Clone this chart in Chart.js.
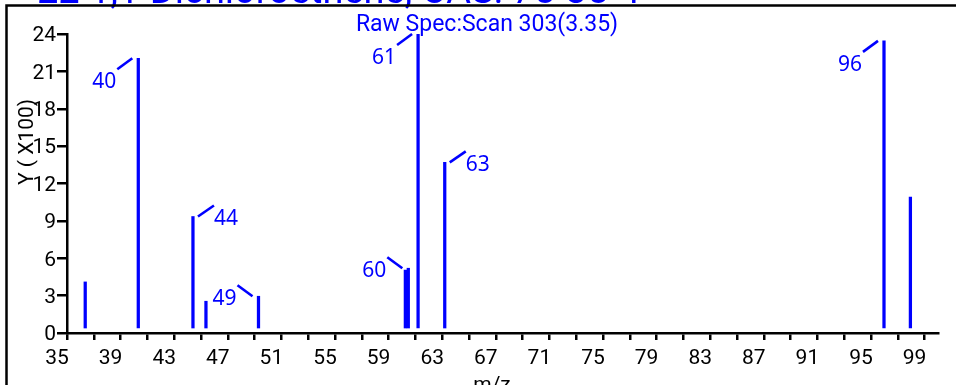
<!DOCTYPE html>
<html>
<head>
<meta charset="utf-8">
<script src="https://cdn.jsdelivr.net/npm/chart.js@4.4.1/dist/chart.umd.min.js"></script>
<style>
html, body { margin: 0; padding: 0; background: #fff; }
#wrap { width: 956px; height: 385px; }
</style>
</head>
<body>
<div id="wrap"><canvas id="spec"></canvas></div>
<script>
// peaks: m/z position and intensity in Y (x100)
const mzValues = [36.36, 40.32, 44.40, 45.37, 49.29, 60.25, 60.47, 61.20, 63.19, 95.97, 97.94];
const intensities = [4.1, 22.05, 9.35, 2.55, 2.95, 5.05, 5.2, 24.0, 13.7, 23.45, 10.9];
const peakLabels = ['', '40', '44', '', '49', '', '60', '61', '63', '96', ''];

// axis ticks
const xTickValues = [35, 37, 39, 41, 43, 45, 47, 49, 51, 53, 55, 57, 59, 61, 63, 65, 67,
                     69, 71, 73, 75, 77, 79, 81, 83, 85, 87, 89, 91, 93, 95, 97, 99];
const xTickLabels = [35, 39, 43, 47, 51, 55, 59, 63, 67, 71, 75, 79, 83, 87, 91, 95, 99];
const yTickValues = [0, 3, 6, 9, 12, 15, 18, 21, 24];

const titleText = '22 1,1-Dichloroethene, CAS: 75-35-4';
const scanText = 'Raw Spec:Scan 303(3.35)';
const xAxisTitle = 'm/z';
const yAxisTitle = 'Y ( X100)';

const BLUE = '#0000ff';

// which way each peak label sits from its line top
const calloutSide = { '40': 'below', '61': 'below', '96': 'below', '44': 'right', '63': 'right', '49': 'left', '60': 'left' };

const decorPlugin = {
    id: 'decor',
    beforeDraw(chart) {
        const ctx = chart.ctx;
        ctx.save();
        // title, mostly cut off by the top of the picture
        ctx.fillStyle = BLUE;
        ctx.font = '38px Roboto';
        ctx.textAlign = 'left';
        ctx.textBaseline = 'alphabetic';
        ctx.fillText(titleText, 37, 3);
        // frame
        ctx.strokeStyle = '#000';
        ctx.lineWidth = 2.5;
        ctx.beginPath();
        ctx.moveTo(6.5, 390);
        ctx.lineTo(6.5, 5.5);
        ctx.lineTo(960, 5.5);
        ctx.stroke();
        // scan caption
        ctx.font = '23px Roboto';
        ctx.textAlign = 'center';
        ctx.fillText(scanText, 487, 31);
        // axis titles
        ctx.fillStyle = '#000';
        ctx.font = '21px Roboto';
        ctx.fillText(xAxisTitle, 492, 391);
        ctx.translate(28, 142);
        ctx.rotate(-Math.PI / 2);
        ctx.textBaseline = 'middle';
        ctx.fillText(yAxisTitle, 0, 0);
        ctx.restore();
    },
    afterDatasetsDraw(chart) {
        const ctx = chart.ctx;
        const xs = chart.scales.x, ys = chart.scales.y;
        ctx.save();
        ctx.strokeStyle = BLUE;
        ctx.fillStyle = BLUE;
        ctx.lineWidth = 2.6;
        ctx.font = '21px "Noto Sans"';
        ctx.textAlign = 'center';
        ctx.textBaseline = 'middle';
        peakLabels.forEach((lab, i) => {
            if (!lab) return;
            const px = xs.getPixelForValue(mzValues[i]);
            const py = ys.getPixelForValue(intensities[i]);
            let line, tx, ty;
            if (calloutSide[lab] === 'right') {
                line = [px + 5, py, px + 21, py - 11];
                tx = px + 33; ty = py + 3;
            } else if (calloutSide[lab] === 'left') {
                line = [px - 21, py - 11, px - 6, py];
                tx = px - 34; ty = py + 3;
            } else {
                line = [px - 21, py + 11, px - 6, py];
                tx = px - 34; ty = py + 24;
            }
            ctx.beginPath();
            ctx.moveTo(line[0], line[1]);
            ctx.lineTo(line[2], line[3]);
            ctx.stroke();
            ctx.fillText(lab, tx, ty);
        });
        ctx.restore();
    }
};

new Chart(document.getElementById('spec'), {
    type: 'bar',
    data: {
        datasets: [{
            data: mzValues.map((m, i) => ({ x: m, y: intensities[i] })),
            backgroundColor: BLUE,
            barThickness: 2.6,
            base: 0.4
        }]
    },
    options: {
        responsive: true,
        maintainAspectRatio: false,
        animation: false,
        layout: { padding: { top: 34, right: 18, left: 0, bottom: 0 } },
        plugins: { legend: { display: false }, tooltip: { enabled: false } },
        scales: {
            x: {
                type: 'linear',
                min: 35,
                max: 100,
                offset: false,
                afterBuildTicks: s => { s.ticks = xTickValues.map(v => ({ value: v })); },
                afterFit: s => { s.height = 52; },
                border: { display: true, color: '#000', width: 2.5 },
                grid: { offset: false, drawOnChartArea: false, drawTicks: true, tickLength: 7, color: '#000', lineWidth: 2.5 },
                ticks: {
                    autoSkip: false, maxRotation: 0, color: '#000', padding: 6, labelOffset: -10,
                    font: { family: 'Roboto', size: 21 },
                    callback: v => xTickLabels.includes(v) ? String(v) : ''
                }
            },
            y: {
                min: 0,
                max: 24,
                afterBuildTicks: s => { s.ticks = yTickValues.map(v => ({ value: v })); },
                afterFit: s => { s.width = 67; },
                border: { display: true, color: '#000', width: 2.5 },
                grid: { drawOnChartArea: false, drawTicks: true, tickLength: 10, color: '#000', lineWidth: 2.5 },
                ticks: {
                    autoSkip: false, color: '#000', padding: 1, labelOffset: 2,
                    font: { family: 'Roboto', size: 21 }
                }
            }
        }
    },
    plugins: [decorPlugin]
});
</script>
</body>
</html>
